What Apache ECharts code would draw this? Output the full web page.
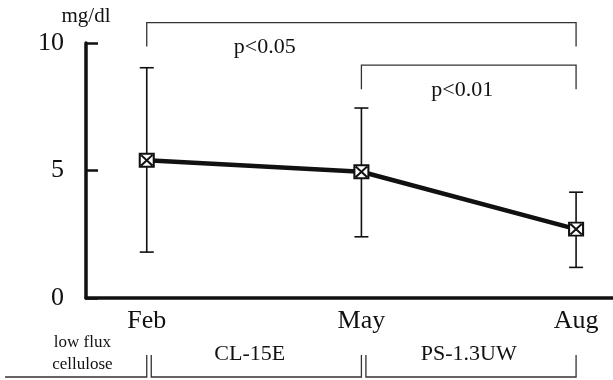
<!DOCTYPE html>
<html><head><meta charset="utf-8">
<script src="https://cdn.jsdelivr.net/npm/echarts@6/dist/echarts.min.js"></script>
<style>html,body{margin:0;padding:0;background:#fff}#c{width:613px;height:380px}</style>
</head><body><div id="c"></div>
<script>
const categories = ['Feb', 'May', 'Aug'];
const meanValues = [5.4, 4.95, 2.7];
const upperValues = [9.03, 7.45, 4.15];
const lowerValues = [1.8, 2.4, 1.2];
const yTicks = [0, 5, 10];
const compLabels = ['p<0.05', 'p<0.01'];
const compFrom = [0, 1];
const compTo = [2, 2];
const groupLabels = ['low flux\ncellulose', 'CL-15E', 'PS-1.3UW'];
const unitLabel = 'mg/dl';

const FONT = '"Liberation Serif", "Times New Roman", serif';
const INK = '#111';

// layout of annotations (pixels / axis units), not data
const compLineY = [10.8, 9.13];
const compLabelX = [0.55, 1.47];
const groupSpans = [[-0.66, 0], [0, 1], [1, 2]];
const groupTextX = [-0.3, 0.48, 1.5];

const meanData = categories.map((c, i) => [i, meanValues[i]]);
const errData = categories.map((c, i) => [i, lowerValues[i], upperValues[i]]);

const chart = echarts.init(document.getElementById('c'), null, {renderer: 'canvas'});

function errRender(params, api) {
  const x = api.value(0);
  const lo = api.coord([x, api.value(1)]);
  const hi = api.coord([x, api.value(2)]);
  const w = 7;
  const st = {stroke: INK, lineWidth: 1.6};
  return {type: 'group', children: [
    {type: 'line', shape: {x1: lo[0], y1: lo[1], x2: hi[0], y2: hi[1]}, style: st},
    {type: 'line', shape: {x1: hi[0] - w, y1: hi[1], x2: hi[0] + w, y2: hi[1]}, style: st},
    {type: 'line', shape: {x1: lo[0] - w, y1: lo[1], x2: lo[0] + w, y2: lo[1]}, style: st}
  ]};
}

function compRender(params, api) {
  const i = params.dataIndex;
  const a = api.coord([api.value(0), compLineY[i]]);
  const b = api.coord([api.value(1), compLineY[i]]);
  const drop = 24;
  const st = {stroke: '#333', lineWidth: 1.3, fill: null};
  const t = api.coord([compLabelX[i], compLineY[i]]);
  return {type: 'group', children: [
    {type: 'polyline', shape: {points: [[a[0], a[1] + drop], [a[0], a[1]], [b[0], b[1]], [b[0], b[1] + drop]]}, style: st},
    {type: 'text', x: t[0], y: t[1] + 25, style: {text: compLabels[i], font: '22px ' + FONT, fill: INK, align: 'center', verticalAlign: 'middle'}}
  ]};
}

function groupRender(params, api) {
  const i = params.dataIndex;
  const base = api.coord([0, 0])[1];
  const yb = base + 79, yt = base + 57;
  const x1 = api.coord([groupSpans[i][0], 0])[0] + (i > 0 ? 4.5 : 0);
  const x2 = api.coord([groupSpans[i][1], 0])[0];
  const pts = i > 0 ? [[x1, yt], [x1, yb], [x2, yb], [x2, yt]] : [[x1, yb], [x2, yb], [x2, yt]];
  const tx = api.coord([groupTextX[i], 0])[0];
  const small = i === 0;
  return {type: 'group', children: [
    {type: 'polyline', shape: {points: pts}, style: {stroke: '#333', lineWidth: 1.3, fill: null}},
    {type: 'text', x: tx, y: base + 56, style: {text: groupLabels[i], font: (small ? '17px ' : '22px ') + FONT, lineHeight: small ? 22 : 24, fill: INK, align: 'center', verticalAlign: 'middle'}}
  ]};
}

chart.setOption({
  animation: false,
  backgroundColor: '#fff',
  grid: {left: 86, right: 0, top: 43, bottom: 82, containLabel: false},
  xAxis: {
    type: 'value', min: -0.283, max: 2.172,
    splitLine: {show: false},
    axisLine: {show: true, onZero: false, lineStyle: {color: INK, width: 3.5}},
    axisTick: {show: false},
    axisLabel: {
      customValues: [0, 1, 2],
      formatter: v => categories[Math.round(v)] || '',
      fontFamily: FONT, fontSize: 26, color: INK, margin: 10
    }
  },
  yAxis: {
    type: 'value', min: 0, max: 10, interval: 5,
    name: unitLabel, nameLocation: 'end', nameGap: 16,
    nameTextStyle: {fontFamily: FONT, fontSize: 21, color: INK, align: 'center'},
    splitLine: {show: false},
    axisLine: {show: true, onZero: false, lineStyle: {color: INK, width: 3.5}},
    axisTick: {show: true, inside: true, length: 12, lineStyle: {color: INK, width: 2.5}},
    axisLabel: {
      customValues: yTicks,
      fontFamily: FONT, fontSize: 26, color: INK, margin: 22
    }
  },
  series: [
    {type: 'custom', renderItem: errRender, data: errData, clip: false, z: 2},
    {
      type: 'line', data: meanData, z: 3,
      lineStyle: {color: INK, width: 4.5},
      symbol: 'path://M0,0L10,0L10,10L0,10Z M1,1L9,9 M9,1L1,9',
      symbolSize: [14, 13],
      itemStyle: {color: '#fff', borderColor: INK, borderWidth: 2}
    },
    {type: 'custom', renderItem: compRender, data: compFrom.map((f, i) => [f, compTo[i]]), clip: false, z: 1},
    {type: 'custom', renderItem: groupRender, data: groupLabels.map((g, i) => [i]), clip: false, z: 1}
  ]
});
</script>
</body></html>
